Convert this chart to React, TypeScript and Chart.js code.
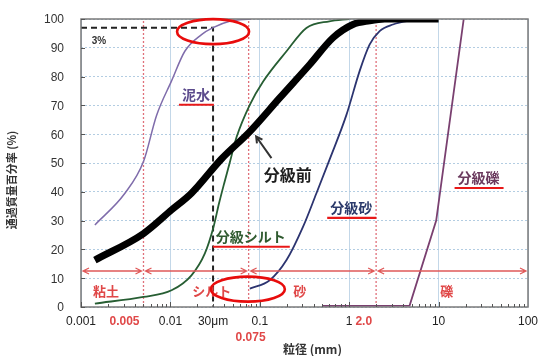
import React, { useEffect, useRef } from "react";
import { Chart, registerables } from "chart.js";

Chart.register(...registerables);

// ---- data (grain size in mm, passing percentage in %) ----
const mudSize = [0.00143, 0.0031, 0.005, 0.007, 0.0103, 0.0145, 0.0223, 0.03, 0.046, 0.08];
const mudPct = [28.5, 39.5, 50.5, 66.5, 78.5, 88.8, 94.6, 97, 99.2, 100];

const beforeSize = [0.00143, 0.005, 0.0103, 0.0172, 0.0372, 0.0773, 0.167, 0.362, 0.659, 1.1, 1.69, 2.5, 10];
const beforePct = [16.3, 25.5, 33.7, 39.5, 51.4, 60.9, 72.6, 84.2, 93.5, 98.1, 99.4, 100, 100];

const siltSize = [0.00143, 0.005, 0.0103, 0.0172, 0.0243, 0.0302, 0.035, 0.04, 0.046, 0.055, 0.0773, 0.109, 0.199, 0.332, 0.6, 1];
const siltPct = [1.2, 3.5, 5.8, 11, 18.6, 27.5, 36, 43, 50, 59, 70.2, 78.3, 88.8, 96.9, 99.2, 100];

const sandSize = [0.0773, 0.129, 0.199, 0.305, 0.43, 0.6, 0.931, 1.31, 1.69, 2.19, 3.09, 4.7, 7];
const sandPct = [6.4, 9.3, 16.3, 27.9, 39.5, 51, 66.7, 82, 91.1, 95.8, 98.1, 99.4, 100];

const gravelSize = [0.5, 4.74, 9.4, 19.1];
const gravelPct = [0.4, 0.5, 30, 100];

// reference lines
const cutSize = [0.001, 0.03, 0.03];
const cutPct = [97, 97, 0];
const boundarySizes = [0.005, 0.075, 2.0];
const rangeEdges = [0.001, 0.005, 0.075, 2.0, 100];
const rangeNames = ["粘土", "シルト", "砂", "礫"];
const rangeLabelSize = [0.0019, 0.029, 0.28, 12.3];

// ticks
const xTickValues = [0.001, 0.01, 0.1, 1, 10, 100];
const xTickLabels = ["0.001", "0.01", "0.1", "1", "10", "100"];
const yTicks = [0, 10, 20, 30, 40, 50, 60, 70, 80, 90, 100];

// annotations
const curveNames = ["泥水", "分級前", "分級シルト", "分級砂", "分級礫"];
const curveNameSize = [0.0193, 0.2056, 0.0793, 1.053, 28];
const curveNamePct = [73.7, 45.9, 24.4, 34.4, 44.8];

const pts = (xs: number[], ys: number[]) => xs.map((x, i) => ({ x, y: ys[i] }));

export default function App() {
  const ref = useRef<HTMLCanvasElement>(null);

  useEffect(() => {
    const canvas = ref.current!;
    const JP = '"Noto Sans CJK JP", "Noto Sans", sans-serif';
    const LAT = '"Liberation Sans", Arial, sans-serif';

    const overlay = {
      id: "overlay",
      afterDraw(chart: any) {
        const { ctx, chartArea: a, scales } = chart;
        const x = scales.x;
        const y = scales.y;
        const px = (v: number) => x.getPixelForValue(v);
        const py = (v: number) => y.getPixelForValue(v);
        ctx.save();

        // frame
        ctx.strokeStyle = "#7a7a7a";
        ctx.lineWidth = 1.5;
        ctx.strokeRect(a.left, a.top, a.right - a.left, a.bottom - a.top);

        // minor ticks on the x axis
        ctx.strokeStyle = "#555";
        ctx.lineWidth = 1;
        for (let d = 0.001; d < 99; d *= 10) {
          for (let m = 1; m < 10; m++) {
            const xx = Math.round(px(d * m)) + 0.5;
            ctx.beginPath();
            ctx.moveTo(xx, a.bottom);
            ctx.lineTo(xx, a.bottom - (m === 1 ? 5 : 3));
            ctx.stroke();
          }
        }
        // y tick marks
        yTicks.forEach((t) => {
          const yy = Math.round(py(t)) + 0.5;
          ctx.beginPath();
          ctx.moveTo(a.left, yy);
          ctx.lineTo(a.left + 4, yy);
          ctx.stroke();
        });

        // tick labels
        ctx.textBaseline = "middle";
        ctx.textAlign = "right";
        ctx.fillStyle = "#333";
        ctx.font = `12px ${LAT}`;
        yTicks.forEach((t) => ctx.fillText(String(t), a.left - 17, py(t) + 1));
        const rowY = a.bottom + 15;
        ctx.textAlign = "center";
        ctx.fillStyle = "#222";
        xTickValues.forEach((v, i) => ctx.fillText(xTickLabels[i], px(v), rowY));

        // range arrows
        const ay = py(12.5);
        ctx.strokeStyle = "#e05a5a";
        ctx.lineWidth = 1.3;
        for (let i = 0; i < rangeEdges.length - 1; i++) {
          const x1 = px(rangeEdges[i]) + 2;
          const x2 = px(rangeEdges[i + 1]) - 2;
          ctx.beginPath();
          ctx.moveTo(x1, ay);
          ctx.lineTo(x2, ay);
          ctx.moveTo(x1 + 6, ay - 3);
          ctx.lineTo(x1, ay);
          ctx.lineTo(x1 + 6, ay + 3);
          ctx.moveTo(x2 - 6, ay - 3);
          ctx.lineTo(x2, ay);
          ctx.lineTo(x2 - 6, ay + 3);
          ctx.stroke();
        }
        // range names
        ctx.fillStyle = "#e04848";
        ctx.font = `bold 13px ${JP}`;
        ctx.textAlign = "center";
        ctx.textBaseline = "middle";
        rangeNames.forEach((n, i) => ctx.fillText(n, px(rangeLabelSize[i]), py(5.5)));

        // "3%" label
        ctx.fillStyle = "#333";
        ctx.font = `bold 10px ${LAT}`;
        ctx.fillText("3%", px(0.00159), py(92.2));

        // curve names with red underline
        const colours = ["#5b4a8c", "#1e1e1e", "#2f5a2f", "#2b3a6b", "#6b3a5e"];
        curveNames.forEach((n, i) => {
          const big = i === 1;
          ctx.font = `bold ${big ? 16 : 14}px ${JP}`;
          ctx.fillStyle = colours[i];
          const cx = px(curveNameSize[i]);
          const cy = py(curveNamePct[i]);
          ctx.fillText(n, cx, cy);
          if (!big) {
            const w = ctx.measureText(n).width;
            ctx.strokeStyle = "#e81818";
            ctx.lineWidth = 2.2;
            ctx.beginPath();
            ctx.moveTo(cx - w / 2 - 3, cy + 10);
            ctx.lineTo(cx + w / 2 + 4, cy + 10);
            ctx.stroke();
          }
        });

        // arrow pointing at the 分級前 curve
        const tx = px(0.135), ty = py(51.7);
        const hx = px(0.091), hy = py(59.2);
        ctx.strokeStyle = "#333";
        ctx.lineWidth = 2;
        ctx.beginPath();
        ctx.moveTo(tx, ty);
        ctx.lineTo(hx, hy);
        const ang = Math.atan2(ty - hy, tx - hx);
        ctx.moveTo(hx + 7 * Math.cos(ang - 0.5), hy + 7 * Math.sin(ang - 0.5));
        ctx.lineTo(hx, hy);
        ctx.lineTo(hx + 7 * Math.cos(ang + 0.5), hy + 7 * Math.sin(ang + 0.5));
        ctx.stroke();

        // red ellipses
        ctx.strokeStyle = "#e80c0c";
        ctx.lineWidth = 2.6;
        ctx.beginPath();
        ctx.ellipse(px(0.03), py(95.6), 36, 12.5, 0, 0, Math.PI * 2);
        ctx.stroke();
        ctx.beginPath();
        ctx.ellipse(px(0.0735), py(6.2), 37, 12.5, 0, 0, Math.PI * 2);
        ctx.stroke();

        // extra x labels
        ctx.textBaseline = "middle";
        ctx.font = `bold 12px ${LAT}`;
        ctx.fillStyle = "#e04848";
        ctx.textAlign = "right";
        ctx.fillText("0.005", px(0.005) - 4, rowY);
        ctx.fillText("2.0", px(2.0) - 4, rowY);
        ctx.textAlign = "center";
        ctx.fillText("0.075", px(0.075) + 2, rowY + 16);
        ctx.fillStyle = "#222";
        ctx.font = `12px ${LAT}`;
        ctx.fillText("30μm", px(0.03), rowY);

        // axis titles
        ctx.font = `bold 12px ${JP}`;
        ctx.fillStyle = "#333";
        ctx.fillText("粒径 (mm)", (a.left + a.right) / 2 + 8, a.bottom + 42);
        ctx.save();
        ctx.translate(12, (a.top + a.bottom) / 2 + 17);
        ctx.rotate(-Math.PI / 2);
        ctx.font = `bold 11px ${JP}`;
        ctx.fillText("通過質量百分率 (%)", 0, 0);
        ctx.restore();

        ctx.restore();
      },
    };

    const thin = (label: string, data: any[], color: string, w = 1.6) => ({
      label,
      data,
      borderColor: color,
      borderWidth: w,
      pointRadius: 0,
      fill: false,
      cubicInterpolationMode: "monotone" as const,
    });

    const datasets: any[] = [
      thin("分級前", pts(beforeSize, beforePct), "#000", 7),
      thin("泥水", pts(mudSize, mudPct), "#7f6cab", 1.5),
      thin("分級シルト", pts(siltSize, siltPct), "#275e33", 1.8),
      thin("分級砂", pts(sandSize, sandPct), "#2c3470", 1.8),
      { ...thin("分級礫", pts(gravelSize, gravelPct), "#7a4070", 1.8), cubicInterpolationMode: "default", tension: 0 },
      {
        label: "3%",
        data: pts(cutSize, cutPct),
        borderColor: "#222",
        borderWidth: 2,
        borderDash: [6, 4],
        pointRadius: 0,
        tension: 0,
      },
      ...boundarySizes.map((b) => ({
        label: "境界",
        data: [{ x: b, y: 0 }, { x: b, y: 100 }],
        borderColor: "#e0707a",
        borderWidth: 1.3,
        borderDash: [2, 2],
        pointRadius: 0,
        tension: 0,
      })),
    ];

    const chart = new Chart(canvas, {
      type: "line",
      data: { datasets },
      options: {
        responsive: false,
        animation: false,
        events: [],
        layout: { padding: { left: 11, right: 12, top: 19, bottom: 0 } },
        plugins: { legend: { display: false }, tooltip: { enabled: false } },
        scales: {
          x: {
            type: "logarithmic",
            min: 0.001,
            max: 100,
            afterBuildTicks: (s: any) => {
              s.ticks = xTickValues.map((v) => ({ value: v }));
            },
            afterFit: (s: any) => {
              s.height = 49;
            },
            ticks: { display: false },
            grid: { drawTicks: false, color: "#c3d7e8", lineWidth: 1 },
            border: { display: false },
          },
          y: {
            min: 0,
            max: 100,
            afterFit: (s: any) => {
              s.width = 70;
            },
            afterBuildTicks: (s: any) => {
              s.ticks = yTicks.map((v) => ({ value: v }));
            },
            ticks: { display: false },
            grid: { drawTicks: false, color: "#b3cde2", lineWidth: 1 },
            border: { display: false, dash: [2, 2] },
          },
        },
      },
      plugins: [overlay],
    });
    return () => chart.destroy();
  }, []);

  return (
    <div style={{ position: "absolute", left: 0, top: 0, width: 540, height: 356, background: "#fff" }}>
      <canvas ref={ref} width={540} height={356} style={{ width: 540, height: 356, display: "block" }} />
    </div>
  );
}
